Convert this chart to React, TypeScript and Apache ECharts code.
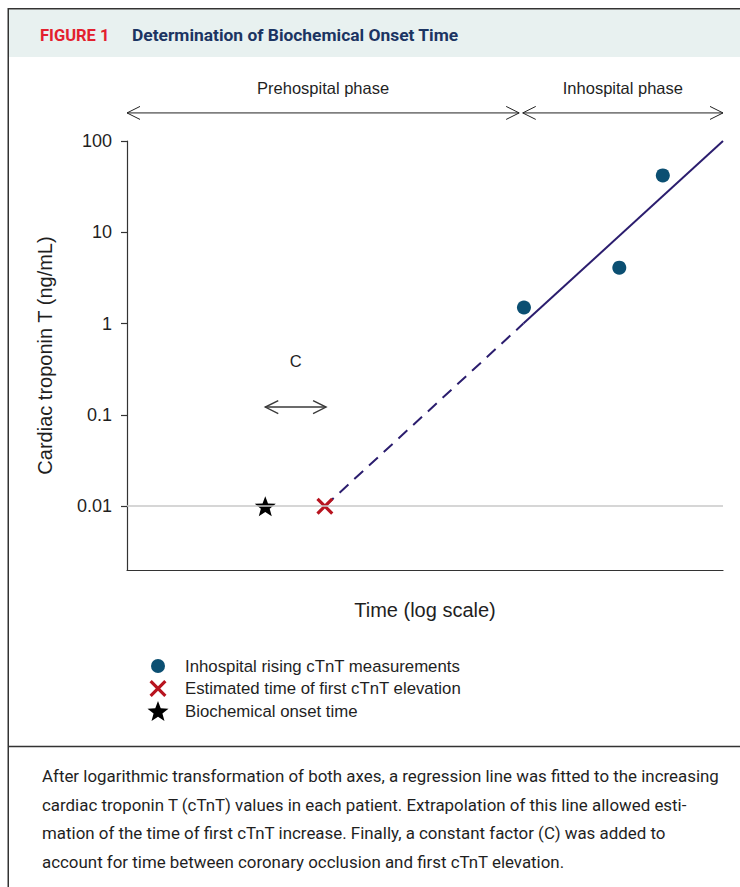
import React, { useEffect, useRef } from "react";
import * as echarts from "echarts";

// ---- data ----
const yTickValues = [0.01, 0.1, 1, 10, 100];
const yTickLabels = ["0.01", "0.1", "1", "10", "100"];
const yMin = 0.002;
const yMax = 100;
const xMin = 0;
const xMax = 100;

const measurementTimes = [66.6, 82.6, 89.9];
const measurementValues = [1.5, 4.1, 42];
const firstElevationTime = [33.2];
const firstElevationValue = [0.01];
const onsetTime = [23.2];
const onsetValue = [0.01];
const extrapolatedTimes = [33.2, 66.5];
const extrapolatedValues = [0.01, 1];
const fittedTimes = [66.5, 100];
const fittedValues = [1, 100];
const detectionLimit = 0.01;

const arrowLabels = ["Prehospital phase", "Inhospital phase", "C"];
const arrowFrom = [0, 66.4, 23.2];
const arrowTo = [65.8, 100, 33.4];
const arrowLevel = [203, 203, 0.122];
const arrowLabelLevel = [380, 380, 0.39];

const legendNames = [
  "Inhospital rising cTnT measurements",
  "Estimated time of first cTnT elevation",
  "Biochemical onset time",
];

const captionLines = [
  "After logarithmic transformation of both axes, a regression line was fitted to the increasing",
  "cardiac troponin T (cTnT) values in each patient. Extrapolation of this line allowed esti-",
  "mation of the time of first cTnT increase. Finally, a constant factor (C) was added to",
  "account for time between coronary occlusion and first cTnT elevation.",
];

// ---- symbols (22x22 box) ----
const PAD = "M0,0M22,22";
const circleIcon = `path://${PAD}M4,11a7,7 0 1,0 14,0a7,7 0 1,0 -14,0Z`;
const crossPath = `path://${PAD}M2.5,4.76L4.76,2.5L11,8.74L17.24,2.5L19.5,4.76L13.26,11L19.5,17.24L17.24,19.5L11,13.26L4.76,19.5L2.5,17.24L8.74,11Z`;
const starPath = `path://${PAD}M11,1.01L13.73,8.3L21.5,8.64L15.41,13.48L17.49,20.98L11,16.69L4.51,20.98L6.59,13.48L0.5,8.64L8.27,8.3Z`;

const lg = (v: number) => Math.log10(v);
const FONT = '"Liberation Sans", Arial, sans-serif';
const TEXT = "#1f1f1f";

export default function App() {
  const ref = useRef<HTMLDivElement>(null);
  useEffect(() => {
    if (!ref.current) return;
    const chart = echarts.init(ref.current, null, { renderer: "svg" });
    const tickLogs = yTickValues.map(lg);
    const option: any = {
      animation: false,
      backgroundColor: "#ffffff",
      grid: { left: 127, right: 17, top: 141, bottom: 317 },
      xAxis: {
        type: "value",
        min: xMin,
        max: xMax,
        axisLine: { show: true, onZero: false, lineStyle: { color: "#333", width: 1.2 } },
        axisTick: { show: false },
        axisLabel: { show: false },
        splitLine: { show: false },
        name: "Time (log scale)",
        nameLocation: "middle",
        nameGap: 30,
        nameTextStyle: { fontSize: 20, color: TEXT, fontFamily: FONT },
      },
      yAxis: {
        type: "value",
        min: lg(yMin),
        max: lg(yMax),
        axisLine: { show: true, onZero: false, lineStyle: { color: "#333", width: 1.2 } },
        axisTick: {
          show: true,
          length: 6,
          customValues: tickLogs,
          lineStyle: { color: "#333", width: 1.2 },
        },
        axisLabel: {
          customValues: tickLogs,
          margin: 15,
          fontSize: 18,
          color: TEXT,
          fontFamily: FONT,
          formatter: (v: number) => {
            const i = tickLogs.findIndex((t) => Math.abs(t - v) < 1e-6);
            return i >= 0 ? yTickLabels[i] : "";
          },
        },
        splitLine: { show: false },
        name: "Cardiac troponin T (ng/mL)",
        nameLocation: "middle",
        nameGap: 72,
        nameTextStyle: { fontSize: 20, color: TEXT, fontFamily: FONT },
      },
      legend: {
        orient: "vertical",
        left: 147,
        top: 655,
        padding: 0,
        itemWidth: 22,
        itemHeight: 22,
        itemGap: 0.5,
        symbolKeepAspect: true,
        selectedMode: false,
        textStyle: { fontSize: 16.8, color: TEXT, fontFamily: FONT, padding: [0, 0, 0, 11] },
        data: [
          { name: legendNames[0], icon: circleIcon },
          { name: legendNames[1], icon: crossPath },
          { name: legendNames[2], icon: starPath },
        ],
      },
      series: [
        {
          type: "line",
          name: "Extrapolation",
          z: 2,
          showSymbol: false,
          data: extrapolatedTimes.map((t, i) => [t, lg(extrapolatedValues[i])]),
          lineStyle: { color: "#2b1d6e", width: 2, type: [12, 8] },
          markLine: {
            silent: true,
            symbol: "none",
            label: { show: false },
            lineStyle: { color: "#c9c9c9", width: 1.5, type: "solid" },
            data: [{ yAxis: lg(detectionLimit) }],
          },
        },
        {
          type: "line",
          name: "Regression",
          z: 2,
          showSymbol: false,
          data: fittedTimes.map((t, i) => [t, lg(fittedValues[i])]),
          lineStyle: { color: "#2b1d6e", width: 2 },
        },
        {
          type: "scatter",
          name: legendNames[0],
          z: 3,
          symbol: "circle",
          symbolSize: 14,
          itemStyle: { color: "#0b4f72", opacity: 1 },
          data: measurementTimes.map((t, i) => [t, lg(measurementValues[i])]),
        },
        {
          type: "scatter",
          name: legendNames[1],
          z: 3,
          symbol: crossPath,
          symbolSize: 22,
          itemStyle: { color: "#b8141f", opacity: 1 },
          data: firstElevationTime.map((t, i) => [t, lg(firstElevationValue[i])]),
        },
        {
          type: "scatter",
          name: legendNames[2],
          z: 3,
          symbol: starPath,
          symbolSize: 22,
          itemStyle: { color: "#000000", opacity: 1 },
          data: onsetTime.map((t, i) => [t, lg(onsetValue[i])]),
        },
        {
          type: "custom",
          name: "Annotations",
          z: 4,
          silent: true,
          encode: { x: [0, 1], y: [2, 3] },
          data: arrowFrom.map((f, i) => [f, arrowTo[i], lg(arrowLevel[i]), lg(arrowLabelLevel[i])]),
          renderItem: (params: any, api: any) => {
            const i = params.dataIndex;
            const p1 = api.coord([api.value(0), api.value(2)]);
            const p2 = api.coord([api.value(1), api.value(2)]);
            const pl = api.coord([(api.value(0) + api.value(1)) / 2, api.value(3)]);
            const L = 13;
            const h = 6.5;
            const isC = i === 2;
            const stroke = isC ? "#3a3a3a" : "#222";
            const lw = isC ? 1.4 : 1;
            return {
              type: "group",
              children: [
                {
                  type: "line",
                  shape: { x1: p1[0], y1: p1[1], x2: p2[0], y2: p2[1] },
                  style: { stroke, lineWidth: lw },
                },
                {
                  type: "polyline",
                  shape: { points: [[p1[0] + L, p1[1] - h], [p1[0], p1[1]], [p1[0] + L, p1[1] + h]] },
                  style: { stroke, lineWidth: lw, fill: "none" },
                },
                {
                  type: "polyline",
                  shape: { points: [[p2[0] - L, p2[1] - h], [p2[0], p2[1]], [p2[0] - L, p2[1] + h]] },
                  style: { stroke, lineWidth: lw, fill: "none" },
                },
                {
                  type: "text",
                  style: {
                    text: arrowLabels[i],
                    x: pl[0],
                    y: pl[1],
                    align: "center",
                    verticalAlign: "middle",
                    fontSize: 16.5,
                    fontFamily: FONT,
                    fill: TEXT,
                  },
                },
              ],
            };
          },
        },
      ],
      graphic: [
        { type: "rect", shape: { x: 9, y: 9.5, width: 731, height: 47.5 }, style: { fill: "#e8f1f0" }, silent: true },
        { type: "line", shape: { x1: 8, y1: 8.75, x2: 740, y2: 8.75 }, style: { stroke: "#333", lineWidth: 1.5 } },
        { type: "line", shape: { x1: 8.25, y1: 8, x2: 8.25, y2: 887 }, style: { stroke: "#333", lineWidth: 1.5 } },
        { type: "line", shape: { x1: 8, y1: 746.5, x2: 740, y2: 746.5 }, style: { stroke: "#333", lineWidth: 1.5 } },
        {
          type: "text",
          x: 40,
          y: 35,
          style: {
            text: "FIGURE 1",
            fill: "#e3202e",
            fontSize: 16.5,
            fontWeight: "bold",
            fontFamily: "Roboto, sans-serif",
            verticalAlign: "middle",
          },
        },
        {
          type: "text",
          x: 132,
          y: 35,
          style: {
            text: "Determination of Biochemical Onset Time",
            fill: "#1b3462",
            fontSize: 17.4,
            fontWeight: "bold",
            fontFamily: "Roboto, sans-serif",
            verticalAlign: "middle",
          },
        },
        {
          type: "text",
          x: 42,
          y: 762,
          style: {
            text: captionLines.join("\n"),
            fill: "#1f1f1f",
            fontSize: 16.9,
            lineHeight: 28.5,
            fontFamily: "Roboto, sans-serif",
            verticalAlign: "top",
          },
        },
      ],
    };
    chart.setOption(option);
    return () => chart.dispose();
  }, []);
  return (
    <div
      ref={ref}
      style={{ position: "absolute", left: 0, top: 0, width: 740, height: 887, background: "#fff" }}
    />
  );
}
